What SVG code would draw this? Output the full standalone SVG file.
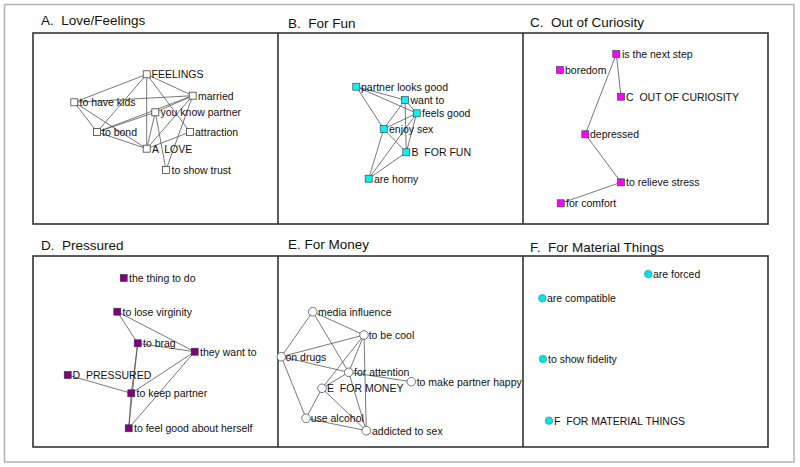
<svg xmlns="http://www.w3.org/2000/svg" width="800" height="467" viewBox="0 0 800 467">
<style>
.frame{fill:none;stroke:#b4b4b4;stroke-width:1.5}
.panel{fill:none;stroke:#333;stroke-width:1.6}
.title{font-family:"Liberation Sans",Arial,sans-serif;font-size:13.5px;fill:#111}
.lbl{font-family:"Liberation Sans",Arial,sans-serif;font-size:10.5px;fill:#111}
.e line{stroke:#555;stroke-width:0.8}
.wb{fill:#fff;stroke:#444;stroke-width:0.8}
.cb{fill:#00f5f5;stroke:#333;stroke-width:0.6}
.mb{fill:#ff00ff;stroke:#333;stroke-width:0.6}
.pb{fill:#800080;stroke:#333;stroke-width:0.6}
.wc{fill:#fff;stroke:#555;stroke-width:0.8}
.cc{fill:#00e5e5;stroke:#3a8a8a;stroke-width:0.6}
</style>
<rect width="800" height="467" fill="#fff"/>
<rect class="frame" x="4.5" y="4.5" width="789.5" height="457.5"/>
<g id="panels">
<rect class="panel" x="33" y="33" width="735" height="191"/>
<line class="panel" x1="278" y1="33" x2="278" y2="224"/>
<line class="panel" x1="523" y1="33" x2="523" y2="224"/>
<rect class="panel" x="33" y="256" width="735" height="191"/>
<line class="panel" x1="278" y1="256" x2="278" y2="447"/>
<line class="panel" x1="523" y1="256" x2="523" y2="447"/>
</g>
<g id="titles">
<text class="title" x="41" y="25" xml:space="preserve">A.  Love/Feelings</text>
<text class="title" x="288" y="28" xml:space="preserve">B.  For Fun</text>
<text class="title" x="530" y="27" xml:space="preserve">C.  Out of Curiosity</text>
<text class="title" x="41" y="250" xml:space="preserve">D.  Pressured</text>
<text class="title" x="288" y="249" xml:space="preserve">E. For Money</text>
<text class="title" x="530" y="252" xml:space="preserve">F.  For Material Things</text>
</g>
<g id="connectors" class="e">
<!-- A -->
<line x1="146.7" y1="74.3" x2="74.3" y2="102.3"/>
<line x1="146.7" y1="74.3" x2="97" y2="132"/>
<line x1="146.7" y1="74.3" x2="146.7" y2="148.7"/>
<line x1="146.7" y1="74.3" x2="192.7" y2="95.7"/>
<line x1="146.7" y1="74.3" x2="190" y2="132"/>
<line x1="74.3" y1="102.3" x2="192.7" y2="95.7"/>
<line x1="74.3" y1="102.3" x2="97" y2="132"/>
<line x1="74.3" y1="102.3" x2="146.7" y2="148.7"/>
<line x1="97" y1="132" x2="155.3" y2="112.3"/>
<line x1="97" y1="132" x2="192.7" y2="95.7"/>
<line x1="97" y1="132" x2="146.7" y2="148.7"/>
<line x1="192.7" y1="95.7" x2="155.3" y2="112.3"/>
<line x1="155.3" y1="112.3" x2="146.7" y2="148.7"/>
<line x1="192.7" y1="95.7" x2="146.7" y2="148.7"/>
<line x1="155.3" y1="112.3" x2="166" y2="170"/>
<line x1="190" y1="132" x2="146.7" y2="148.7"/>
<line x1="192.7" y1="95.7" x2="166" y2="170"/>
<!-- B -->
<line x1="356.3" y1="86.7" x2="405" y2="100"/>
<line x1="356.3" y1="86.7" x2="416.7" y2="113.3"/>
<line x1="356.3" y1="86.7" x2="383.7" y2="129"/>
<line x1="405" y1="100" x2="383.7" y2="129"/>
<line x1="405" y1="100" x2="406.3" y2="152.3"/>
<line x1="405" y1="100" x2="416.7" y2="113.3"/>
<line x1="416.7" y1="113.3" x2="383.7" y2="129"/>
<line x1="416.7" y1="113.3" x2="406.3" y2="152.3"/>
<line x1="383.7" y1="129" x2="406.3" y2="152.3"/>
<line x1="383.7" y1="129" x2="368.7" y2="178.7"/>
<line x1="406.3" y1="152.3" x2="368.7" y2="178.7"/>
<line x1="416.7" y1="113.3" x2="368.7" y2="178.7"/>
<!-- C -->
<line x1="616.3" y1="54" x2="621" y2="96.7"/>
<line x1="616.3" y1="54" x2="585.3" y2="134.3"/>
<line x1="585.3" y1="134.3" x2="621" y2="182.3"/>
<line x1="621" y1="182.3" x2="560.7" y2="203.3"/>
<!-- D -->
<line x1="117.3" y1="311.7" x2="137.7" y2="343.3"/>
<line x1="117.3" y1="311.7" x2="194.7" y2="351.7"/>
<line x1="137.7" y1="343.3" x2="194.7" y2="351.7"/>
<line x1="137.7" y1="343.3" x2="131.3" y2="393.3"/>
<line x1="137.7" y1="343.3" x2="128.7" y2="428.3"/>
<line x1="67.7" y1="375" x2="131.3" y2="393.3"/>
<line x1="194.7" y1="351.7" x2="131.3" y2="393.3"/>
<line x1="194.7" y1="351.7" x2="128.7" y2="428.3"/>
<line x1="131.3" y1="393.3" x2="128.7" y2="428.3"/>
<!-- E -->
<line x1="312.7" y1="311.7" x2="281.3" y2="356.7"/>
<line x1="312.7" y1="311.7" x2="364" y2="335"/>
<line x1="312.7" y1="311.7" x2="348.7" y2="372.3"/>
<line x1="281.3" y1="356.7" x2="364" y2="335"/>
<line x1="281.3" y1="356.7" x2="348.7" y2="372.3"/>
<line x1="281.3" y1="356.7" x2="306" y2="418.3"/>
<line x1="364" y1="335" x2="348.7" y2="372.3"/>
<line x1="364" y1="335" x2="322" y2="388.3"/>
<line x1="364" y1="335" x2="366.3" y2="430.7"/>
<line x1="348.7" y1="372.3" x2="322" y2="388.3"/>
<line x1="348.7" y1="372.3" x2="411.3" y2="381.7"/>
<line x1="348.7" y1="372.3" x2="366.3" y2="430.7"/>
<line x1="322" y1="388.3" x2="306" y2="418.3"/>
<line x1="322" y1="388.3" x2="366.3" y2="430.7"/>
<line x1="306" y1="418.3" x2="366.3" y2="430.7"/>
</g>
<!-- Panel A nodes -->
<g id="a-feelings"><rect class="wb" x="143.2" y="70.8" width="7" height="7"/><text class="lbl" x="151.5" y="78">FEELINGS</text></g>
<g id="a-married"><rect class="wb" x="189.2" y="92.2" width="7" height="7"/><text class="lbl" x="198" y="99.5">married</text></g>
<g id="a-kids"><rect class="wb" x="70.8" y="98.8" width="7" height="7"/><text class="lbl" x="79.5" y="106">to have kids</text></g>
<g id="a-know"><rect class="wb" x="151.8" y="108.8" width="7" height="7"/><text class="lbl" x="160.5" y="116">you know partner</text></g>
<g id="a-bond"><rect class="wb" x="93.5" y="128.5" width="7" height="7"/><text class="lbl" x="102" y="136">to bond</text></g>
<g id="a-attraction"><rect class="wb" x="186.5" y="128.5" width="7" height="7"/><text class="lbl" x="195" y="136">attraction</text></g>
<g id="a-love"><rect class="wb" x="143.2" y="145.2" width="7" height="7"/><text class="lbl" x="152" y="152.5" xml:space="preserve">A  LOVE</text></g>
<g id="a-trust"><rect class="wb" x="162.5" y="166.5" width="7" height="7"/><text class="lbl" x="171.5" y="174">to show trust</text></g>
<!-- Panel B nodes -->
<g id="b-looks"><rect class="cb" x="352.8" y="83.2" width="7" height="7"/><text class="lbl" x="361" y="90.5">partner looks good</text></g>
<g id="b-want"><rect class="cb" x="401.5" y="96.5" width="7" height="7"/><text class="lbl" x="410.5" y="104">want to</text></g>
<g id="b-feels"><rect class="cb" x="413.2" y="109.8" width="7" height="7"/><text class="lbl" x="422" y="117">feels good</text></g>
<g id="b-enjoy"><rect class="cb" x="380.2" y="125.5" width="7" height="7"/><text class="lbl" x="389" y="133">enjoy sex</text></g>
<g id="b-fun"><rect class="cb" x="402.8" y="148.8" width="7" height="7"/><text class="lbl" x="411.5" y="156" xml:space="preserve">B  FOR FUN</text></g>
<g id="b-horny"><rect class="cb" x="365.2" y="175.2" width="7" height="7"/><text class="lbl" x="374" y="182.5">are horny</text></g>
<!-- Panel C nodes -->
<g id="c-next"><rect class="mb" x="612.8" y="50.5" width="7" height="7"/><text class="lbl" x="622" y="58">is the next step</text></g>
<g id="c-boredom"><rect class="mb" x="556.5" y="66.5" width="7" height="7"/><text class="lbl" x="565" y="74">boredom</text></g>
<g id="c-curiosity"><rect class="mb" x="617.5" y="93.2" width="7" height="7"/><text class="lbl" x="626" y="100.5" xml:space="preserve">C  OUT OF CURIOSITY</text></g>
<g id="c-depressed"><rect class="mb" x="581.8" y="130.8" width="7" height="7"/><text class="lbl" x="590" y="138">depressed</text></g>
<g id="c-stress"><rect class="mb" x="617.5" y="178.8" width="7" height="7"/><text class="lbl" x="626" y="186">to relieve stress</text></g>
<g id="c-comfort"><rect class="mb" x="557.2" y="199.8" width="7" height="7"/><text class="lbl" x="566" y="207">for comfort</text></g>
<!-- Panel D nodes -->
<g id="d-thing"><rect class="pb" x="120.2" y="274.5" width="7" height="7"/><text class="lbl" x="129" y="282">the thing to do</text></g>
<g id="d-virginity"><rect class="pb" x="113.8" y="308.2" width="7" height="7"/><text class="lbl" x="122.5" y="315.5">to lose virginity</text></g>
<g id="d-brag"><rect class="pb" x="134.2" y="339.8" width="7" height="7"/><text class="lbl" x="143" y="347">to brag</text></g>
<g id="d-want"><rect class="pb" x="191.2" y="348.2" width="7" height="7"/><text class="lbl" x="200" y="355.5">they want to</text></g>
<g id="d-pressured"><rect class="pb" x="64.2" y="371.5" width="7" height="7"/><text class="lbl" x="72.5" y="379" xml:space="preserve">D  PRESSURED</text></g>
<g id="d-keep"><rect class="pb" x="127.8" y="389.8" width="7" height="7"/><text class="lbl" x="136.5" y="397">to keep partner</text></g>
<g id="d-feel"><rect class="pb" x="125.2" y="424.8" width="7" height="7"/><text class="lbl" x="134" y="432">to feel good about herself</text></g>
<!-- Panel E nodes -->
<g id="e-media"><circle class="wc" cx="312.7" cy="311.7" r="4.3"/><text class="lbl" x="318" y="315.5">media influence</text></g>
<g id="e-cool"><circle class="wc" cx="364" cy="335" r="4.3"/><text class="lbl" x="368.7" y="339">to be cool</text></g>
<g id="e-drugs"><circle class="wc" cx="281.3" cy="356.7" r="4.3"/><text class="lbl" x="285.5" y="360.5">on drugs</text></g>
<g id="e-attention"><circle class="wc" cx="348.7" cy="372.3" r="4.3"/><text class="lbl" x="354" y="376">for attention</text></g>
<g id="e-happy"><circle class="wc" cx="411.3" cy="381.7" r="4.3"/><text class="lbl" x="416.7" y="385.5">to make partner happy</text></g>
<g id="e-money"><circle class="wc" cx="322" cy="388.3" r="4.3"/><text class="lbl" x="327" y="392" xml:space="preserve">E  FOR MONEY</text></g>
<g id="e-alcohol"><circle class="wc" cx="306" cy="418.3" r="4.3"/><text class="lbl" x="310.7" y="422">use alcohol</text></g>
<g id="e-addicted"><circle class="wc" cx="366.3" cy="430.7" r="4.3"/><text class="lbl" x="372" y="434.5">addicted to sex</text></g>
<!-- Panel F nodes -->
<g id="f-forced"><circle class="cc" cx="648.3" cy="274" r="3.8"/><text class="lbl" x="653" y="278">are forced</text></g>
<g id="f-compatible"><circle class="cc" cx="542.3" cy="298.3" r="3.8"/><text class="lbl" x="547" y="302">are compatible</text></g>
<g id="f-fidelity"><circle class="cc" cx="543" cy="359" r="3.8"/><text class="lbl" x="548" y="362.5">to show fidelity</text></g>
<g id="f-material"><circle class="cc" cx="549" cy="420.7" r="3.8"/><text class="lbl" x="554" y="424.5" xml:space="preserve">F  FOR MATERIAL THINGS</text></g>
</svg>
